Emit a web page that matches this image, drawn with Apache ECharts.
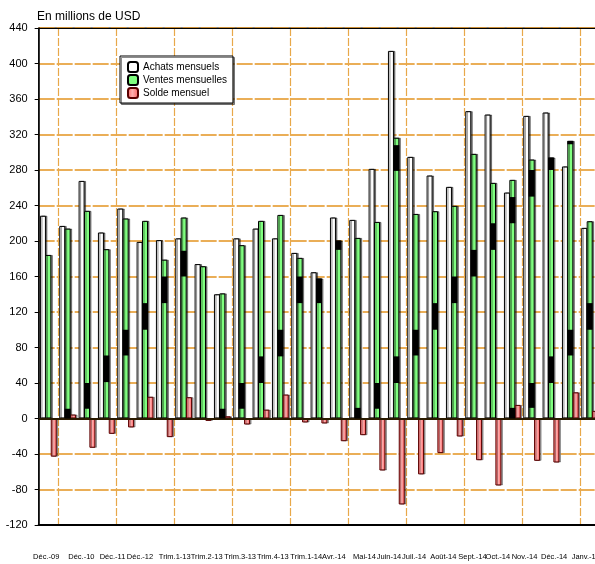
<!DOCTYPE html>
<html>
<head>
<meta charset="utf-8">
<script src="https://cdn.jsdelivr.net/npm/echarts@6/dist/echarts.min.js"></script>
<style>html,body{margin:0;padding:0;background:#fff;}#chart{width:595px;height:564px;}</style>
</head>
<body>
<div id="chart"></div>
<script>
// 29 bar groups (periods); category ids
const categories = ['g1','g2','g3','g4','g5','g6','g7','g8','g9','g10','g11','g12','g13','g14','g15',
  'g16','g17','g18','g19','g20','g21','g22','g23','g24','g25','g26','g27','g28','g29'];
// tick labels and where they sit along the category axis (in group units from the left edge)
const tickLabels = ['Déc.-09','Déc.-10','Déc.-11','Déc.-12','Trim.1-13','Trim.2-13','Trim.3-13','Trim.4-13',
  'Trim.1-14','Avr.-14','Mai-14','Juin-14','Juil.-14','Août-14','Sept.-14','Oct.-14','Nov.-14','Déc.-14','Janv.-15'];
const tickLabelAt = [0.39,2.21,3.82,5.24,7.04,8.69,10.42,12.11,13.84,15.27,16.85,18.12,19.42,20.93,22.44,23.75,25.13,26.66,28.3];
const achats = [228.5,217,267.7,209.6,236.6,199,201,203,174,140,203,214,203,186.6,164.8,226.5,223.8,281.3,414.2,294.8,273.8,261,346.3,342.5,254.6,341,344.8,284,214.8];
const ventes = [184.3,214,234,190.8,225.4,222.7,179,226.5,171.6,141,195.3,222.7,229.4,181,157.7,200.5,203.5,221.5,316.4,230.5,233.6,239.6,298.2,265.5,268.9,291.8,294,312.8,222.3];
const solde  = [-43,4.5,-33,-17.3,-10.1,24.5,-21,24,-2.7,2.5,-6.8,10,27,-4.5,-5.6,-25.6,-18.8,-58.6,-96.9,-63,-39,-20.3,-47,-75.5,15.3,-47.7,-49.6,29.5,8.6];
// dark bands visible inside the green bars: [group index, from, to]
const blackBands = [
  [1,0,11],[2,11,40],[3,41,71],[4,71,100],[5,100,130],[6,130,160],[7,160,189],
  [9,0,11],[10,11,40],[11,40,70],[12,70,100],[13,130,160],[14,130,157.7],[15,190,200.5],
  [16,0,12],[17,11,40],[18,40,70],[18,279,308],[19,71,100],[20,100,130],[21,130,160],
  [22,160,190],[23,190,220],[24,0,12],[24,220,249.5],[25,12,40],[25,250,280],
  [26,40,70],[26,280,294],[27,71,100],[27,309,312.8],[28,100,130]
];
const yTicks = {min:-120, max:440, interval:40};

const FONT = "'Liberation Sans',Arial,sans-serif";
const chart = echarts.init(document.getElementById('chart'), null, {renderer:'canvas'});
const BW = 6;
chart.setOption({
  animation:false,
  backgroundColor:'#fff',
  title:{text:'En millions de USD', left:37, top:11, padding:0, textStyle:{fontFamily:FONT, fontSize:12, fontWeight:'normal', color:'#000'}},
  legend:{
    data:['Achats mensuels','Ventes mensuelles','Solde mensuel'],
    orient:'vertical', left:120, top:56, itemWidth:10, itemHeight:10, itemGap:1,
    padding:[5,6,4,7], backgroundColor:'#fff', borderColor:'#000', borderWidth:1,
    shadowColor:'rgba(0,0,0,0.45)', shadowOffsetX:1.5, shadowOffsetY:1.5,
    textStyle:{fontFamily:FONT, fontSize:10, color:'#000', lineHeight:10},
    selectedMode:false
  },
  grid:{left:38.67, top:28, width:560.67, height:497, outerBoundsMode:'none', containLabel:false,
    show:true, borderColor:'#000', borderWidth:1, backgroundColor:'transparent'},
  xAxis:[{
    type:'category', data:categories, boundaryGap:true,
    axisLine:{show:true, onZero:false, lineStyle:{color:'#000', width:2}},
    axisTick:{show:false},
    axisLabel:{show:false},
    splitLine:{show:true, interval:function(i){return i%3===1;}, lineStyle:{color:'#e8a84a', width:1.2, type:[8,2]}}
  },{
    type:'value', min:0, max:categories.length, position:'bottom',
    axisLine:{show:false}, axisTick:{show:false}, splitLine:{show:false},
    axisLabel:{show:true, customValues:tickLabelAt, margin:28, fontFamily:FONT, fontSize:7.5, color:'#000', hideOverlap:false,
      showMinLabel:true, showMaxLabel:true,
      formatter:function(v){
        let best=0, d=1e9;
        tickLabelAt.forEach(function(p,i){ if(Math.abs(p-v)<d){d=Math.abs(p-v);best=i;} });
        return tickLabels[best];
      }}
  },{
    type:'category', data:categories, position:'top',
    axisLine:{show:true, onZero:false, lineStyle:{color:'#000', width:1}},
    axisTick:{show:false}, axisLabel:{show:false}, splitLine:{show:false}
  }],
  yAxis:{
    type:'value', min:yTicks.min, max:yTicks.max, interval:yTicks.interval,
    axisLine:{show:true, lineStyle:{color:'#000', width:1.5}},
    axisTick:{show:true, inside:false, length:4, lineStyle:{color:'#000'}},
    axisLabel:{fontFamily:FONT, fontSize:11, color:'#000', margin:11},
    splitLine:{show:true, lineStyle:{color:'#e39420', width:1.5, type:[16,2]}}
  },
  series:[
    {name:'Achats mensuels', type:'bar', data:achats, barWidth:BW, barGap:'-10%',
     itemStyle:{color:'#fff', borderColor:'#000', borderWidth:1, shadowColor:'rgba(0,0,0,0.45)', shadowOffsetX:1.5, shadowBlur:0},
     markLine:{silent:true, symbol:'none', label:{show:false}, data:[{yAxis:0}], lineStyle:{color:'#2a1a00', width:2, type:'solid'}}},
    {name:'Ventes mensuelles', type:'bar', data:ventes, barWidth:BW,
     itemStyle:{color:'#80ff80', borderColor:'#000', borderWidth:1, shadowColor:'rgba(0,0,0,0.45)', shadowOffsetX:1.5, shadowBlur:0}},
    {name:'Solde mensuel', type:'bar', data:solde, barWidth:BW,
     itemStyle:{color:new echarts.graphic.LinearGradient(0,0,1,0,[{offset:0,color:'#ff5c5c'},{offset:0.45,color:'#ffb0b0'},{offset:1,color:'#ff5c5c'}]),
       borderColor:'#5a0000', borderWidth:1, shadowColor:'rgba(0,0,0,0.35)', shadowOffsetX:1.5, shadowBlur:0}},
    {name:'bands', type:'custom', data:blackBands, encode:{x:0, y:[1,2]}, z:5, silent:true,
     renderItem:function(params, api){
       const a = api.coord([api.value(0), api.value(1)]);
       const b = api.coord([api.value(0), api.value(2)]);
       return {type:'rect', shape:{x:a[0]-BW/2, y:b[1], width:BW, height:a[1]-b[1]}, style:{fill:'#000'}};
     }}
  ]
});
</script>
</body>
</html>
